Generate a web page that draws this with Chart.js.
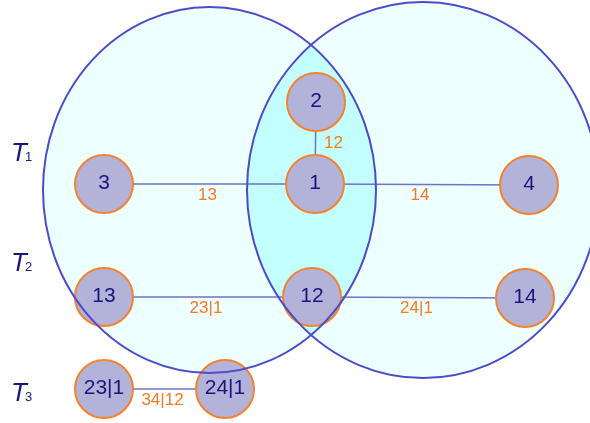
<!DOCTYPE html>
<html>
<head>
<meta charset="utf-8">
<script src="https://cdn.jsdelivr.net/npm/chart.js@4/dist/chart.umd.min.js"></script>
<style>
  body { margin: 0; background: #fff; }
  #wrap { width: 590px; height: 423px; }
</style>
</head>
<body>
<div id="wrap"><canvas id="tree" width="590" height="423"></canvas></div>
<script>
// nodes of the tree (label, x, y)
const nodeLabels = ['3', '1', '4', '2', '13', '12', '14', '23|1', '24|1'];
const nodeX = [104, 315, 529, 316, 104, 312, 525, 104, 225];
const nodeY = [184, 184, 185, 102, 297, 297, 298, 389, 389];

// edges: from node index, to node index, label
const edgeFrom = [0, 1, 3, 4, 5, 7];
const edgeTo = [1, 2, 1, 5, 6, 8];
const edgeLabels = ['13', '14', '12', '23|1', '24|1', '34|12'];

// the two sets (centre x, centre y, radius x, radius y)
const setCx = [209.5, 423];
const setCy = [190, 190];
const setRx = [166.5, 176];
const setRy = [183, 188];

// row labels T1..T3
const rowSubs = ['1', '2', '3'];
const rowY = [152, 262, 392];

const diagram = {
  id: 'diagram',
  beforeDatasetsDraw(chart) {
    const ctx = chart.ctx, sx = chart.scales.x, sy = chart.scales.y;
    const path = i => {
      const cx = sx.getPixelForValue(setCx[i]);
      const cy = sy.getPixelForValue(setCy[i]);
      const rx = Math.abs(sx.getPixelForValue(setCx[i] + setRx[i]) - cx);
      const ry = Math.abs(sy.getPixelForValue(setCy[i] + setRy[i]) - cy);
      ctx.beginPath();
      ctx.ellipse(cx, cy, rx, ry, 0, 0, Math.PI * 2);
    };
    chart._setPath = path;
    ctx.save();
    ctx.fillStyle = '#eeffff';
    for (let i = 0; i < setCx.length; i++) { path(i); ctx.fill(); }
    path(0); ctx.clip();
    path(1); ctx.fillStyle = '#c4ffff'; ctx.fill();
    ctx.restore();
  },
  afterDatasetsDraw(chart) {
    const ctx = chart.ctx, sx = chart.scales.x, sy = chart.scales.y;
    ctx.save();
    ctx.strokeStyle = '#4b4bcc';
    ctx.lineWidth = 2;
    for (let i = 0; i < setCx.length; i++) { chart._setPath(i); ctx.stroke(); }

    ctx.textAlign = 'center';
    ctx.textBaseline = 'middle';
    ctx.fillStyle = '#16167e';
    ctx.font = '21px "Liberation Sans", Arial, sans-serif';
    nodeLabels.forEach((t, i) => {
      ctx.fillText(t, sx.getPixelForValue(nodeX[i]), sy.getPixelForValue(nodeY[i]) - 1);
    });

    ctx.fillStyle = '#f57a22';
    ctx.font = '17px "Liberation Sans", Arial, sans-serif';
    edgeLabels.forEach((t, i) => {
      const a = edgeFrom[i], b = edgeTo[i];
      const mx = sx.getPixelForValue((nodeX[a] + nodeX[b]) / 2);
      const my = sy.getPixelForValue((nodeY[a] + nodeY[b]) / 2);
      const vertical = Math.abs(nodeX[a] - nodeX[b]) < 5;
      if (vertical) ctx.fillText(t, mx + 18, my);
      else ctx.fillText(t, mx - 2, my + 11);
    });

    ctx.textAlign = 'left';
    ctx.textBaseline = 'alphabetic';
    ctx.fillStyle = '#16167e';
    rowSubs.forEach((s, i) => {
      const y = sy.getPixelForValue(rowY[i]) + 9;
      ctx.font = 'italic 26px "Liberation Sans", Arial, sans-serif';
      ctx.fillText('T', 11, y);
      ctx.font = '13px "Liberation Sans", Arial, sans-serif';
      ctx.fillText(s, 25, y);
    });
    ctx.restore();
  }
};

const edgeSets = edgeFrom.map((a, i) => ({
  type: 'scatter',
  showLine: true,
  order: 1,
  data: [{ x: nodeX[a], y: nodeY[a] }, { x: nodeX[edgeTo[i]], y: nodeY[edgeTo[i]] }],
  borderColor: '#7272c9',
  borderWidth: 1.5,
  pointRadius: 0
}));

const ctx = document.getElementById('tree').getContext('2d');
const myChart = new Chart(ctx, {
  type: 'scatter',
  data: {
    datasets: [{
      order: 0,
      data: nodeX.map((x, i) => ({ x: x, y: nodeY[i] })),
      pointRadius: 29,
      pointBackgroundColor: '#b3b3d9',
      pointBorderColor: '#f5822a',
      pointBorderWidth: 2
    }].concat(edgeSets)
  },
  options: {
    responsive: false,
    animation: false,
    events: [],
    layout: { padding: 0, autoPadding: false },
    plugins: {
      legend: { display: false },
      tooltip: { enabled: false }
    },
    scales: {
      x: { type: 'linear', min: 0, max: 590, display: false },
      y: { type: 'linear', min: 0, max: 423, reverse: true, display: false }
    }
  },
  plugins: [diagram]
});
</script>
</body>
</html>
